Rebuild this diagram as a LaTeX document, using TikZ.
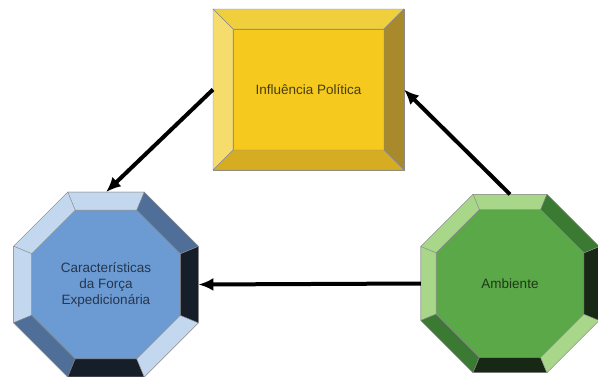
\documentclass[tikz,border=0pt]{standalone}
\usepackage{fontspec}
\setmainfont{Liberation Sans}
\usepackage{xcolor}
\usepackage{tikz}
\usetikzlibrary{positioning, arrows.meta, shapes.geometric, calc}

\definecolor{ylwface}{HTML}{F5C91E}
\definecolor{ylwtop}{HTML}{EFCF3C}
\definecolor{ylwleft}{HTML}{F6DC6C}
\definecolor{ylwright}{HTML}{A88A2C}
\definecolor{ylwbot}{HTML}{D6AD22}
\definecolor{ylwtext}{HTML}{4A3E10}
\definecolor{bluface}{HTML}{6B9BD2}
\definecolor{blult}{HTML}{C3D8EE}
\definecolor{blumd}{HTML}{4F6F98}
\definecolor{bludk}{HTML}{161E2A}
\definecolor{blutext}{HTML}{263650}
\definecolor{grnface}{HTML}{5AA848}
\definecolor{grnlt}{HTML}{A8D78A}
\definecolor{grnmd}{HTML}{3B7A32}
\definecolor{grndk}{HTML}{172814}
\definecolor{grntext}{HTML}{1E3818}

\begin{document}
\begin{tikzpicture}[
      x=1pt, y=-1pt,
      font=\fontsize{13.5}{16}\selectfont,
      box/.style={rectangle, inner sep=0pt, outer sep=0pt, draw=black!45, line width=0.5pt, align=center},
      octo/.style={regular polygon, regular polygon sides=8, inner sep=0pt, outer sep=0pt, draw=black!45, line width=0.5pt, align=center},
      bevel/.style={draw=black!45, line width=0.4pt},
      arr/.style={-{Latex[length=15pt, width=13pt]}, line width=4pt}
    ]
    \useasboundingbox (0,0) rectangle (598,376);
    %% Influencia Politica
    \node[box, minimum width=191pt, minimum height=161pt] (yo) at (308.5,89.5) {};
    \node[box, minimum width=151pt, minimum height=121pt, fill=ylwface, text=ylwtext] (yi) at (yo.center) {Influência Política};
    \foreach \a/\b/\c in {north west/north east/ylwtop, north east/south east/ylwright,
                          south east/south west/ylwbot, south west/north west/ylwleft}
      \filldraw[bevel, fill=\c] (yo.\a) -- (yo.\b) -- (yi.\b) -- (yi.\a) -- cycle;
    %% Forca Expedicionaria
    \node[octo, minimum size=200pt] (bo) at (106,284.5) {};
    \node[octo, minimum size=161pt, fill=bluface, text=blutext] (bi) at (bo.center) {Características\\da Força\\Expedicionária};
    \foreach \i/\j/\s in {1/2/lt, 2/3/lt, 3/4/lt, 4/5/md, 5/6/dk, 6/7/lt, 7/8/dk, 8/1/md}
      \filldraw[bevel, fill=blu\s] (bo.corner \i) -- (bo.corner \j) -- (bi.corner \j) -- (bi.corner \i) -- cycle;
    %% Ambiente
    \node[octo, minimum size=193pt] (go) at (510,283.5) {};
    \node[octo, minimum size=160pt, fill=grnface, text=grntext] (gi) at (go.center) {Ambiente};
    \foreach \i/\j/\s in {1/2/lt, 2/3/lt, 3/4/lt, 4/5/md, 5/6/dk, 6/7/lt, 7/8/dk, 8/1/md}
      \filldraw[bevel, fill=grn\s] (go.corner \i) -- (go.corner \j) -- (gi.corner \j) -- (gi.corner \i) -- cycle;
    %% arrows
    \draw[arr] (yo.west) -- (bo.north);
    \draw[arr] (go.north) -- (yo.east);
    \draw[arr] (go.west) -- (bo.east);
  \end{tikzpicture}
\end{document}
